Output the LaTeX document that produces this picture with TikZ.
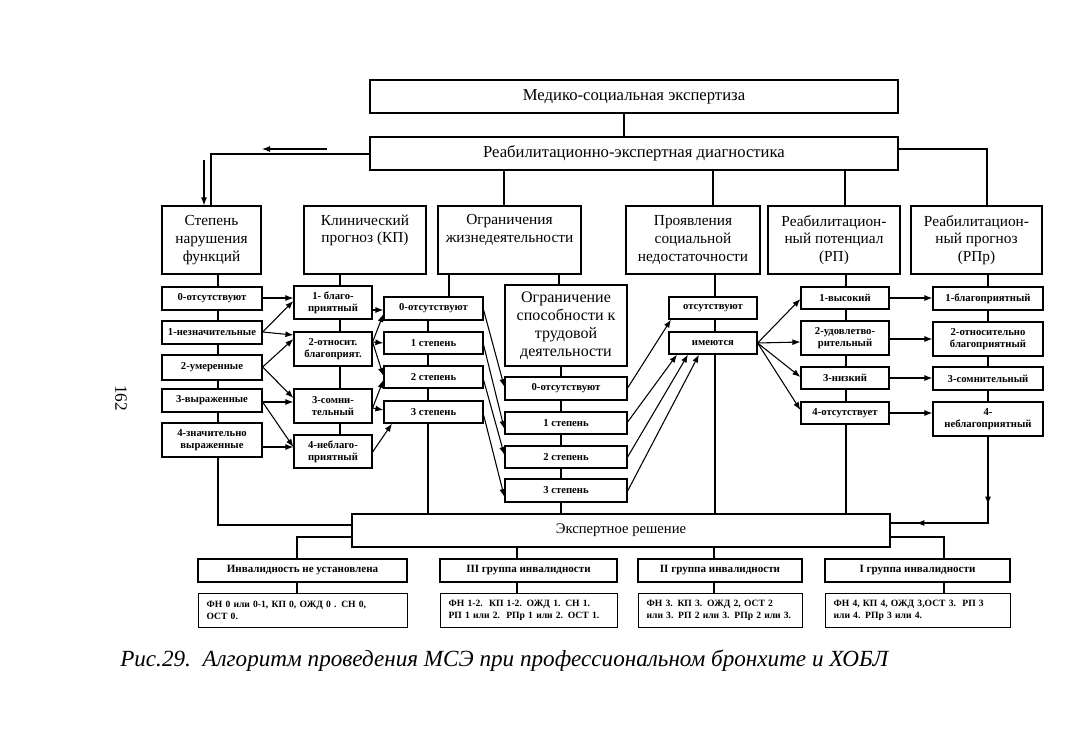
\documentclass[tikz,border=0pt]{standalone}
\usepackage{fontspec}
\setmainfont{Liberation Serif}
\usetikzlibrary{arrows.meta,calc,decorations.markings}
\newcommand\mybox[7][]{%
  \node[box,#1,minimum width={(#4-#2)*0.75pt},minimum height={(#5-#3)*0.75pt}]
    (#6) at ({(#2+#4)/2},{(#3+#5)/2}) {#7};}
\newcommand\vl[3]{\draw[ln] (#1.south -| #3) -- (#2.north -| #3);}
\begin{document}
\begin{tikzpicture}[x=0.75pt,y=-0.75pt,
  box/.style={draw,line width=0.9pt,inner sep=1pt,align=center,fill=white},
  big/.style={font=\fontsize{12.5}{15}\selectfont},
  ost/.style={font=\fontsize{12}{13.6}\selectfont},
  hdr/.style={font=\fontsize{11.5}{13.2}\selectfont},
  sub/.style={font=\fontsize{8}{9}\selectfont\bfseries},
  grp/.style={font=\fontsize{8.3}{10}\selectfont\bfseries},
  det/.style={draw,line width=0.9pt,fill=white,align=left,inner xsep=6pt,inner ysep=1pt,
              font=\fontsize{7.2}{9.2}\selectfont\bfseries,anchor=north west},
  ln/.style={line width=0.8pt},
  ar/.style={line width=0.8pt,-{Latex[length=6pt,width=4.5pt]}},
]
\fill[white] (0,0) rectangle (1083,754);
\useasboundingbox (0,0) rectangle (1083,754);

% x / y helper coordinates
\foreach \v in {204,211,218,297,340,428,449,504,517,559,561,624,713,714,715,845,846,944,987,988}
  {\coordinate (X\v) at (\v,0);}
\foreach \v in {149,154,523,525,537}
  {\coordinate (Y\v) at (0,\v);}

% top boxes
\mybox[big]{370}{80}{898}{113}{t1}{Медико-социальная экспертиза}
\mybox[big]{370}{137}{898}{170}{t2}{Реабилитационно-экспертная диагностика}

% column headers
\mybox[hdr]{162}{206}{261}{274}{h1}{Степень\\нарушения\\функций}
\mybox[hdr]{304}{206}{426}{274}{h2}{Клинический\\прогноз (КП)\\\strut}
\mybox[hdr]{438}{206}{581}{274}{h3}{Ограничения\\жизнедеятельности\\\strut}
\mybox[hdr]{626}{206}{760}{274}{h4}{Проявления\\социальной\\недостаточности}
\mybox[hdr]{768}{206}{900}{274}{h5}{Реабилитацион-\\ный потенциал\\(РП)}
\mybox[hdr]{911}{206}{1042}{274}{h6}{Реабилитацион-\\ный прогноз\\(РПр)}

% Степень нарушения функций
\mybox[sub]{162}{287}{262}{310}{s0}{0-отсутствуют}
\mybox[sub]{162}{321}{262}{344}{s1}{1-незначительные}
\mybox[sub]{162}{355}{262}{380}{s2}{2-умеренные}
\mybox[sub]{162}{389}{262}{412}{s3}{3-выраженные}
\mybox[sub]{162}{423}{262}{457}{s4}{4-значительно\\выраженные}

% КП
\mybox[sub]{294}{286}{372}{319}{k1}{1- благо-\\приятный}
\mybox[sub]{294}{332}{372}{366}{k2}{2-относит.\\благоприят.}
\mybox[sub]{294}{389}{372}{423}{k3}{3-сомни-\\тельный}
\mybox[sub]{294}{435}{372}{468}{k4}{4-неблаго-\\приятный}

% Ограничения жизнедеятельности
\mybox[sub]{384}{297}{483}{320}{o0}{0-отсутствуют}
\mybox[sub]{384}{332}{483}{354}{o1}{1 степень}
\mybox[sub]{384}{366}{483}{388}{o2}{2 степень}
\mybox[sub]{384}{401}{483}{423}{o3}{3 степень}

% ОСТ
\mybox[ost]{505}{285}{627}{366}{c}{Ограничение\\способности к\\трудовой\\деятельности}
\mybox[sub]{505}{377}{627}{400}{c0}{0-отсутствуют}
\mybox[sub]{505}{412}{627}{434}{c1}{1 степень}
\mybox[sub]{505}{446}{627}{468}{c2}{2 степень}
\mybox[sub]{505}{479}{627}{502}{c3}{3 степень}

% Проявления
\mybox[sub]{669}{297}{757}{319}{p0}{отсутствуют}
\mybox[sub]{669}{332}{757}{354}{p1}{имеются}

% РП
\mybox[sub]{801}{287}{889}{309}{r1}{1-высокий}
\mybox[sub]{801}{321}{889}{355}{r2}{2-удовлетво-\\рительный}
\mybox[sub]{801}{367}{889}{389}{r3}{3-низкий}
\mybox[sub]{801}{402}{889}{424}{r4}{4-отсутствует}

% РПр
\mybox[sub]{933}{287}{1043}{310}{q1}{1-благоприятный}
\mybox[sub]{933}{322}{1043}{356}{q2}{2-относительно\\благоприятный}
\mybox[sub]{933}{367}{1043}{390}{q3}{3-сомнительный}
\mybox[sub]{933}{402}{1043}{436}{q4}{4-\\неблагоприятный}

% Экспертное решение
\mybox[font=\fontsize{11}{13}\selectfont]{352}{514}{890}{547}{e}{Экспертное решение}

% groups
\mybox[grp]{198}{559}{407}{582}{g0}{Инвалидность не установлена}
\mybox[grp]{440}{559}{617}{582}{g3}{III группа инвалидности}
\mybox[grp]{638}{559}{802}{582}{g2}{II группа инвалидности}
\mybox[grp]{825}{559}{1010}{582}{g1}{I группа инвалидности}

\node[det,minimum width={(407-198)*0.75pt},minimum height={34*0.75pt},text width={(407-198)*0.75pt-12pt}] (d0) at (198,593)
  {\mbox{ФН 0 или 0-1, КП 0, ОЖД 0 . СН 0,}\\\mbox{ОСТ 0.}};
\node[det,minimum width={(617-440)*0.75pt},minimum height={34*0.75pt},text width={(617-440)*0.75pt-12pt}] (d3) at (440,593)
  {\mbox{ФН 1-2.\ \ КП 1-2. ОЖД 1. СН 1.}\\\mbox{РП 1 или 2.\ \ РПр 1 или 2. ОСТ 1.}};
\node[det,minimum width={(802-638)*0.75pt},minimum height={34*0.75pt},text width={(802-638)*0.75pt-12pt}] (d2) at (638,593)
  {\mbox{ФН 3. КП 3. ОЖД 2, ОСТ 2}\\\mbox{или 3. РП 2 или 3. РПр 2 или 3.}};
\node[det,minimum width={(1010-825)*0.75pt},minimum height={34*0.75pt},text width={(1010-825)*0.75pt-12pt}] (d1) at (825,593)
  {\mbox{ФН 4, КП 4, ОЖД 3,ОСТ 3.\ \ РП 3}\\\mbox{или 4. РПр 3 или 4.}};

% top connectors
\vl{t1}{t2}{X624}
\vl{t2}{h3}{X504}
\vl{t2}{h4}{X713}
\vl{t2}{h5}{X845}
\draw[ln] (t2.west |- Y154) -| (h1.north -| X211);
\draw[ln] (t2.east |- Y149) -| (h6.north -| X987);
\coordinate (fa1) at (327,149); \coordinate (fa2) at (262,149);
\draw[ar] (fa1) -- (fa2);
\coordinate (fb1) at (204,160);
\draw[ar] (fb1) -- (h1.north -| X204);

% column verticals
\vl{h1}{s0}{X218}\vl{s0}{s1}{X218}\vl{s1}{s2}{X218}\vl{s2}{s3}{X218}\vl{s3}{s4}{X218}
\draw[ln] (s4.south -| X218) |- (e.west |- Y525);
\vl{h2}{k1}{X340}\vl{k1}{k2}{X340}\vl{k2}{k3}{X340}\vl{k3}{k4}{X340}
\vl{h3}{o0}{X449}\vl{o0}{o1}{X428}\vl{o1}{o2}{X428}\vl{o2}{o3}{X428}\vl{o3}{e}{X428}
\vl{h3}{c}{X559}\vl{c}{c0}{X561}\vl{c0}{c1}{X561}\vl{c1}{c2}{X561}\vl{c2}{c3}{X561}\vl{c3}{e}{X561}
\vl{h4}{p0}{X715}\vl{p0}{p1}{X715}\vl{p1}{e}{X715}
\vl{h5}{r1}{X846}\vl{r1}{r2}{X846}\vl{r2}{r3}{X846}\vl{r3}{r4}{X846}\vl{r4}{e}{X846}
\vl{h6}{q1}{X988}\vl{q1}{q2}{X988}\vl{q2}{q3}{X988}\vl{q3}{q4}{X988}
\draw[ln,postaction={decorate},decoration={markings,
   mark=at position 0.37 with {\arrow{Latex[length=6pt,width=4.5pt]}},
   mark=at position 0.86 with {\arrow{Latex[length=6pt,width=4.5pt]}}}]
  (q4.south -| X988) |- (e.east |- Y523);

% Степень -> КП
\draw[ar] (s0.east |- 0,298) -- (k1.west |- 0,298);
\draw[ar] (s1.east |- 0,332) -- (k1.west |- 0,301);
\draw[ar] (s1.east |- 0,332) -- (k2.west |- 0,335);
\draw[ar] (s2.east |- 0,367) -- (k2.west |- 0,339);
\draw[ar] (s2.east |- 0,367) -- (k3.west |- 0,398);
\draw[ar] (s3.east |- 0,402) -- (k3.west |- 0,402);
\draw[ar] (s3.east |- 0,402) -- (k4.west |- 0,447);
\draw[ar] (s4.east |- 0,447) -- (k4.west |- 0,447);

% КП -> Огр
\draw[ar] (k1.east |- 0,310) -- (o0.west |- 0,310);
\draw[ar] (k2.east |- 0,342) -- (o0.west |- 0,314);
\draw[ar] (k2.east |- 0,342) -- (o1.west |- 0,343);
\draw[ar] (k2.east |- 0,342) -- (o2.west |- 0,376);
\draw[ar] (k3.east |- 0,408) -- (o2.west |- 0,380);
\draw[ar] (k3.east |- 0,408) -- (o3.west |- 0,410);
\draw[ar] (k4.east |- 0,452) -- (o3.south -| 392,0);

% Огр -> ОСТ
\draw[ar] (o0.east |- 0,310) -- (c0.west |- 0,387);
\draw[ar] (o1.east |- 0,345) -- (c1.west |- 0,429);
\draw[ar] (o2.east |- 0,380) -- (c2.west |- 0,455);
\draw[ar] (o3.east |- 0,415) -- (c3.west |- 0,497);

% ОСТ -> Проявления
\draw[ar] (c0.east |- 0,388) -- (p0.south -| 671,0);
\draw[ar] (c1.east |- 0,422) -- (p1.south -| 677,0);
\draw[ar] (c2.east |- 0,457) -- (p1.south -| 688,0);
\draw[ar] (c3.east |- 0,491) -- (p1.south -| 699,0);

% Проявления -> РП
\draw[ar] (p1.east) -- (r1.west |- 0,299);
\draw[ar] (p1.east) -- (r2.west |- 0,342);
\draw[ar] (p1.east) -- (r3.west |- 0,377);
\draw[ar] (p1.east) -- (r4.west |- 0,410);

% РП -> РПр
\draw[ar] (r1.east |- 0,298) -- (q1.west |- 0,298);
\draw[ar] (r2.east |- 0,339) -- (q2.west |- 0,339);
\draw[ar] (r3.east |- 0,378) -- (q3.west |- 0,378);
\draw[ar] (r4.east |- 0,413) -- (q4.west |- 0,413);

% bottom
\draw[ln] (e.west |- Y537) -| (g0.north -| X297);
\vl{e}{g3}{X517}
\vl{e}{g2}{X714}
\draw[ln] (e.east |- Y537) -| (g1.north -| X944);
\vl{g0}{d0}{X297}\vl{g3}{d3}{X517}\vl{g2}{d2}{X714}\vl{g1}{d1}{X944}

% page number and caption
\node[rotate=-90,font=\fontsize{13}{13}\selectfont] (pg) at (121,398) {162};
\node[anchor=west,inner sep=0pt,font=\fontsize{17.35}{20}\selectfont\itshape] (cap) at (120,661)
  {Рис.29.\ \ Алгоритм проведения МСЭ при профессиональном бронхите и ХОБЛ};
\end{tikzpicture}
\end{document}
